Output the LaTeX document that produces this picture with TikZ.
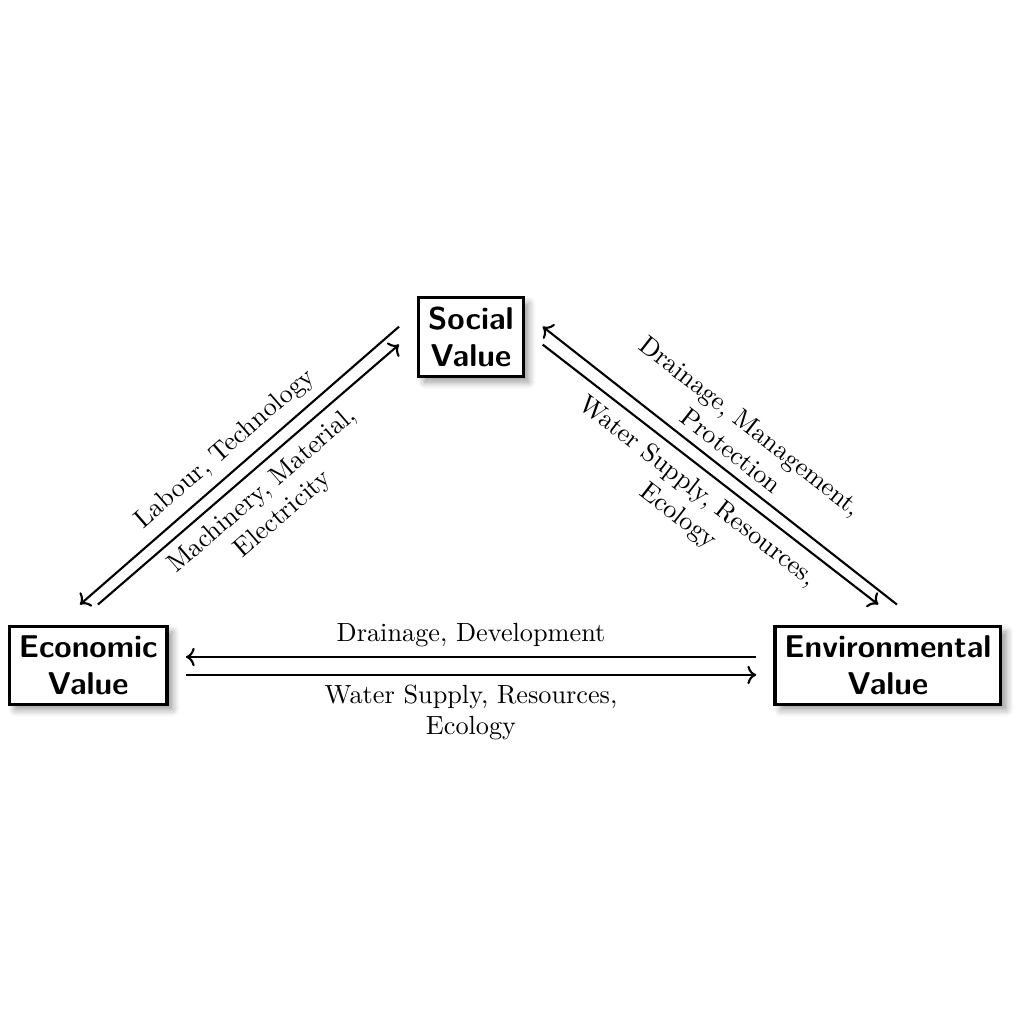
\documentclass[tikz,border=0pt]{standalone}
\usetikzlibrary{shadows.blur,arrows.meta}
\begin{document}
\begin{tikzpicture}[
  valbox/.style={draw, very thick, fill=white, align=center, font=\large\sffamily\bfseries,
    inner sep=3.6pt, blur shadow={shadow blur steps=6, shadow xshift=0.5ex, shadow yshift=-0.5ex, shadow blur radius=0.6ex, shadow opacity=40}},
  arr/.style={->, thick},
  lbl/.style={align=center, font=\normalsize}
]
\useasboundingbox (-6.85,-6.85) rectangle (6.85,6.85);
\node[valbox] (soc) at (-0.55,2.34) {Social\\Value};
\node[valbox] (eco) at (-5.67,-2.05) {Economic\\Value};
\node[valbox] (env) at (5.03,-2.05) {Environmental\\Value};

% horizontal
\draw[arr] ([xshift=-0.23cm,yshift=0.11cm]env.west) -- node[lbl,above] {Drainage, Development} ([xshift=0.23cm,yshift=0.11cm]eco.east);
\draw[arr] ([xshift=0.23cm,yshift=-0.13cm]eco.east) -- node[lbl,below] {Water Supply, Resources,\\Ecology} ([xshift=-0.23cm,yshift=-0.13cm]env.west);

% left diagonal
\draw[arr] ([xshift=-0.24cm,yshift=0.14cm]soc.west) -- node[lbl,above,sloped] {Labour, Technology} ([xshift=-0.11cm,yshift=0.27cm]eco.north);
\draw[arr] ([xshift=0.13cm,yshift=0.27cm]eco.north) -- node[lbl,below,sloped] {Machinery, Material,\\Electricity} ([xshift=-0.24cm,yshift=-0.10cm]soc.west);

% right diagonal
\draw[arr] ([xshift=0.12cm,yshift=0.27cm]env.north) -- node[lbl,above,sloped] {Drainage, Management,\\Protection} ([xshift=0.24cm,yshift=0.14cm]soc.east);
\draw[arr] ([xshift=0.24cm,yshift=-0.10cm]soc.east) -- node[lbl,below,sloped] {Water Supply, Resources,\\Ecology} ([xshift=-0.13cm,yshift=0.27cm]env.north);
\end{tikzpicture}
\end{document}
